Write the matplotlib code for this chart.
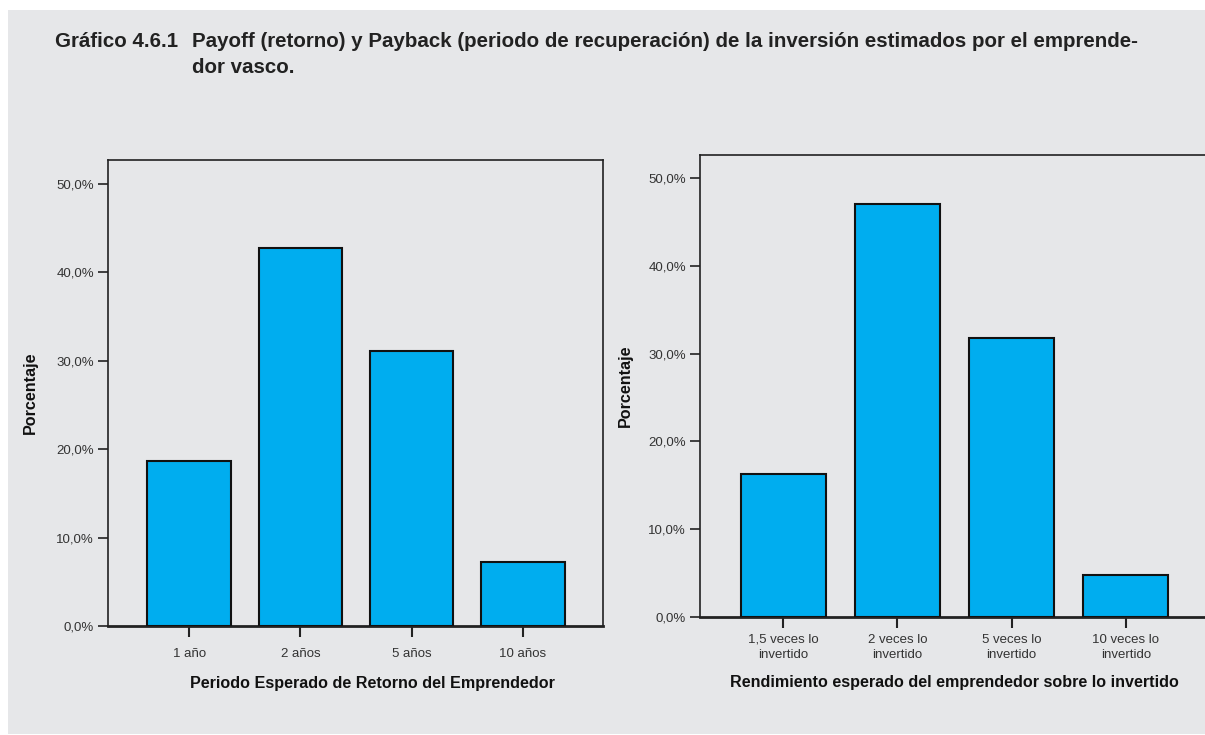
import matplotlib.pyplot as plt
from matplotlib.patches import Rectangle
from matplotlib.ticker import FuncFormatter

# datos
periodo_cats = ["1 año", "2 años", "5 años", "10 años"]
periodo_vals = [18.7, 42.8, 31.1, 7.2]

rend_cats = ["1,5 veces lo\ninvertido", "2 veces lo\ninvertido",
             "5 veces lo\ninvertido", "10 veces lo\ninvertido"]
rend_vals = [16.3, 47.0, 31.8, 4.8]

y_ticks = [0, 10, 20, 30, 40, 50]

bg = "#e6e7e9"
bar_color = "#00adef"
narrow = ["Liberation Sans Narrow", "Liberation Sans", "DejaVu Sans"]
bold = ["Liberation Sans", "DejaVu Sans"]

W, H = 1205, 735
fig = plt.figure(figsize=(W / 100, H / 100), dpi=100)
fig.patch.set_facecolor("white")
fig.patches.append(Rectangle((8 / W, 1 / H), 1, 724 / H,
                             transform=fig.transFigure, facecolor=bg,
                             edgecolor="none", zorder=-10))

tkw = dict(family=bold, fontsize=14.8, fontweight="bold", color="#222222",
           va="baseline")
fig.text(178 / W, 1 - 47 / H, "Gráfico 4.6.1", ha="right", **tkw)
fig.text(192 / W, 1 - 47 / H,
         "Payoff (retorno) y Payback (periodo de recuperación) "
         "de la inversión estimados por el emprende-", ha="left", **tkw)
fig.text(192 / W, 1 - 73 / H, "dor vasco.", ha="left", **tkw)


def pct(v, pos):
    return f"{v:.1f}%".replace(".", ",")


def draw(ax, cats, vals, xlabel, ylim):
    x = range(len(cats))
    ax.bar(x, vals, width=0.75, color=bar_color, edgecolor="#111111",
           linewidth=1.5, zorder=3)
    ax.set_facecolor(bg)
    ax.set_ylim(0, ylim)
    ax.set_yticks(y_ticks)
    ax.yaxis.set_major_formatter(FuncFormatter(pct))
    ax.set_xticks(list(x))
    ax.set_xticklabels(cats, family=narrow, fontsize=9.5, color="#333333",
                       linespacing=1.35)
    for lab in ax.get_yticklabels():
        lab.set_family(narrow)
        lab.set_fontsize(9.5)
        lab.set_color("#333333")
    ax.tick_params(axis="y", direction="out", length=7, width=1.2,
                   color="#222222", pad=3)
    ax.tick_params(axis="x", direction="out", length=8, width=1.5,
                   color="#222222", pad=8)
    for s in ax.spines.values():
        s.set_color("#222222")
        s.set_linewidth(1.2)
    ax.spines["bottom"].set_linewidth(2)
    ax.set_ylabel("Porcentaje", family=bold, fontsize=11.6,
                  fontweight="bold", color="#111111")
    ax.set_xlabel(xlabel, family=bold, fontsize=11.6, fontweight="bold",
                  color="#111111")


ax1 = fig.add_axes([108 / W, 109 / H, 495 / W, 466 / H])
draw(ax1, periodo_cats, periodo_vals,
     "Periodo Esperado de Retorno del Emprendedor", 52.7)
ax1.set_xlim(-0.73, 3.72)
ax1.yaxis.set_label_coords(-0.141, 0.5)
ax1.xaxis.set_label_coords(0.535, -0.107)

ax2 = fig.add_axes([700 / W, 118 / H, 509 / W, 462 / H])
draw(ax2, rend_cats, rend_vals,
     "Rendimiento esperado del emprendedor sobre lo invertido", 52.6)
ax2.set_xlim(-0.73, 3.73)
ax2.tick_params(axis="x", pad=4)
ax2.yaxis.set_label_coords(-0.132, 0.5)
ax2.xaxis.set_label_coords(0.5, -0.1255)

fig.savefig("out.png", dpi=100, facecolor=fig.get_facecolor())
